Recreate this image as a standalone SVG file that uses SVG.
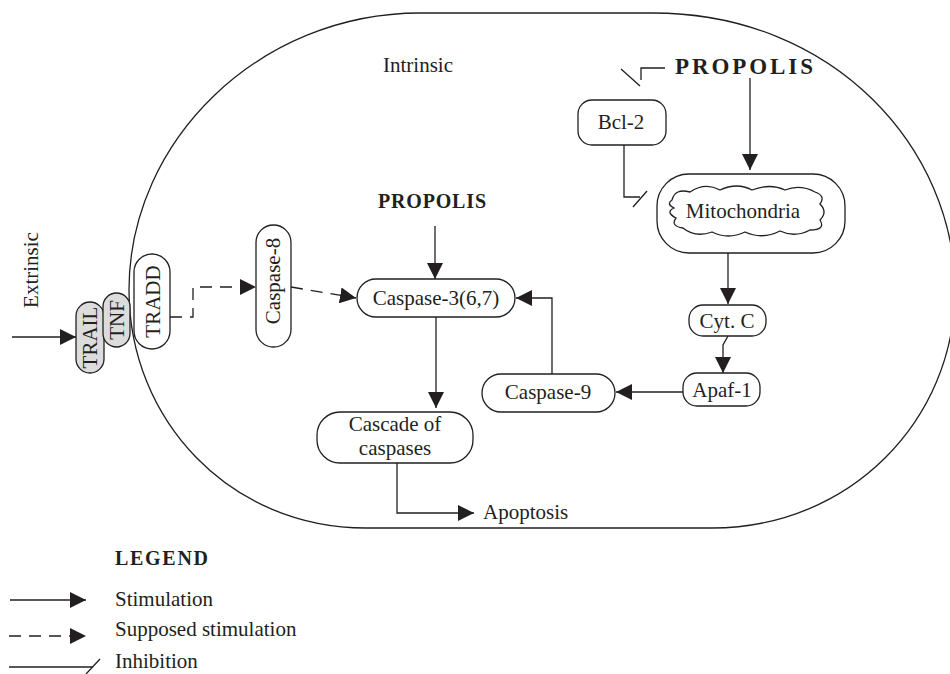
<svg xmlns="http://www.w3.org/2000/svg" width="950" height="674" viewBox="0 0 950 674">
<defs>
<style>
text{font-family:"Liberation Serif","Times New Roman",serif;font-size:21px;fill:#231f20}
.b{font-weight:bold}
.n{fill:#fff;stroke:#231f20;stroke-width:1.3}
.g{fill:#dcdcdc;stroke:#231f20;stroke-width:1.3}
.l{fill:none;stroke:#231f20;stroke-width:1.3}
.d{fill:none;stroke:#231f20;stroke-width:1.3;stroke-dasharray:12 8}
.a{marker-end:url(#ah)}
</style>
<marker id="ah" markerUnits="userSpaceOnUse" markerWidth="17" markerHeight="16" refX="16" refY="8" orient="auto">
<path d="M0,0 L16,8 L0,16 Z" fill="#231f20"/>
</marker>
</defs>
<rect width="950" height="674" fill="#fff"/>
<g id="cell">
<path class="l" d="M 420 13 L 653 13 C 835 13, 955 150, 955 290 C 955 420, 850 528, 712 528 L 366 528 C 230 528, 129 420, 129 290 C 129 140, 260 13, 420 13 Z"/>
<text x="383" y="72">Intrinsic</text>
</g>
<g id="extrinsic"><text transform="translate(38,270) rotate(-90)" text-anchor="middle">Extrinsic</text></g>
<g id="trail"><rect class="g" x="76" y="302" width="28" height="71" rx="14"/><text transform="translate(97,337.5) rotate(-90)" text-anchor="middle">TRAIL</text></g>
<g id="tnf"><rect class="g" x="103" y="293" width="27" height="54" rx="13.5"/><text transform="translate(124,320) rotate(-90)" text-anchor="middle">TNF</text></g>
<g id="tradd"><rect class="n" x="134" y="254" width="36" height="95" rx="18"/><text transform="translate(160,301.5) rotate(-90)" text-anchor="middle">TRADD</text></g>
<g id="caspase8"><rect class="n" x="256" y="225" width="35" height="122" rx="17.5"/><text transform="translate(280,281) rotate(-90)" text-anchor="middle">Caspase-8</text></g>
<g id="propolis1"><text class="b" x="378" y="208" style="font-size:20px" textLength="108" lengthAdjust="spacing">PROPOLIS</text></g>
<g id="caspase3"><rect class="n" x="357" y="279" width="158" height="38" rx="19"/><text x="436" y="305" text-anchor="middle">Caspase-3(6,7)</text></g>
<g id="cascade"><rect class="n" x="317" y="412" width="156" height="51" rx="23"/><text x="395" y="431" text-anchor="middle">Cascade of</text><text x="395" y="455" text-anchor="middle">caspases</text></g>
<g id="apoptosis"><text x="483" y="519">Apoptosis</text></g>
<g id="caspase9"><rect class="n" x="482" y="374" width="133" height="38" rx="19"/><text x="548" y="399" text-anchor="middle">Caspase-9</text></g>
<g id="apaf1"><rect class="n" x="683" y="373" width="77" height="33" rx="14"/><text x="722" y="397" text-anchor="middle">Apaf-1</text></g>
<g id="cytc"><rect class="n" x="689" y="305" width="77" height="31" rx="14"/><text x="727" y="328" text-anchor="middle">Cyt. C</text></g>
<g id="mitochondria">
<rect class="n" x="657" y="174" width="188" height="79" rx="32"/>
<path class="l" d="M 672,200 Q 675,188 690,192 Q 705,182 720,190 Q 737,182 752,190 Q 770,183 785,190 Q 800,184 815,192 Q 826,196 820,204 Q 828,212 820,220 Q 826,230 810,230 Q 795,238 780,231 Q 762,240 745,232 Q 728,240 712,232 Q 695,238 683,228 Q 670,226 676,218 Q 665,212 674,208 Q 666,204 672,200 Z"/>
<text x="743" y="218" text-anchor="middle">Mitochondria</text>
</g>
<g id="bcl2"><rect class="n" x="578" y="100" width="88" height="45" rx="14"/><text x="621" y="129" text-anchor="middle">Bcl-2</text></g>
<g id="propolis2"><text class="b" x="675" y="74" style="font-size:23px" textLength="138" lengthAdjust="spacing">PROPOLIS</text></g>
<g id="connectors">
<path class="l a" d="M 12 337 L 76 337"/>
<path class="d a" d="M 170 317 L 193 317 L 193 287 L 256 287"/>
<path class="d a" d="M 291 287 L 356 298"/>
<path class="l a" d="M 435 226 L 435 279"/>
<path class="l a" d="M 436 317 L 436 408"/>
<path class="l a" d="M 397 463 L 397 513 L 474 513"/>
<path class="l a" d="M 552 374 L 552 298 L 516 298"/>
<path class="l a" d="M 683 392 L 616 392"/>
<path class="l a" d="M 728 336 L 723 345 L 723 373"/>
<path class="l a" d="M 728 253 L 728 304"/>
<path class="l a" d="M 750 78 L 750 170"/>
<path class="l" d="M 665 68 L 641 68 L 641 80"/>
<path class="l" d="M 621 69 L 640 86"/>
<path class="l" d="M 624 145 L 624 197 L 640 197"/>
<path class="l" d="M 633 207 L 647 191"/>
</g>
<g id="legend">
<text class="b" x="115" y="565" textLength="93" lengthAdjust="spacing" style="font-size:20px">LEGEND</text>
<path class="l a" d="M 10 600 L 86 600"/>
<text x="115" y="606">Stimulation</text>
<path class="d a" d="M 9 636 L 86 636"/>
<text x="115" y="636">Supposed stimulation</text>
<path class="l" d="M 9 667 L 93 667"/>
<path class="l" d="M 86 674 L 100 659"/>
<text x="115" y="668">Inhibition</text>
</g>
</svg>
